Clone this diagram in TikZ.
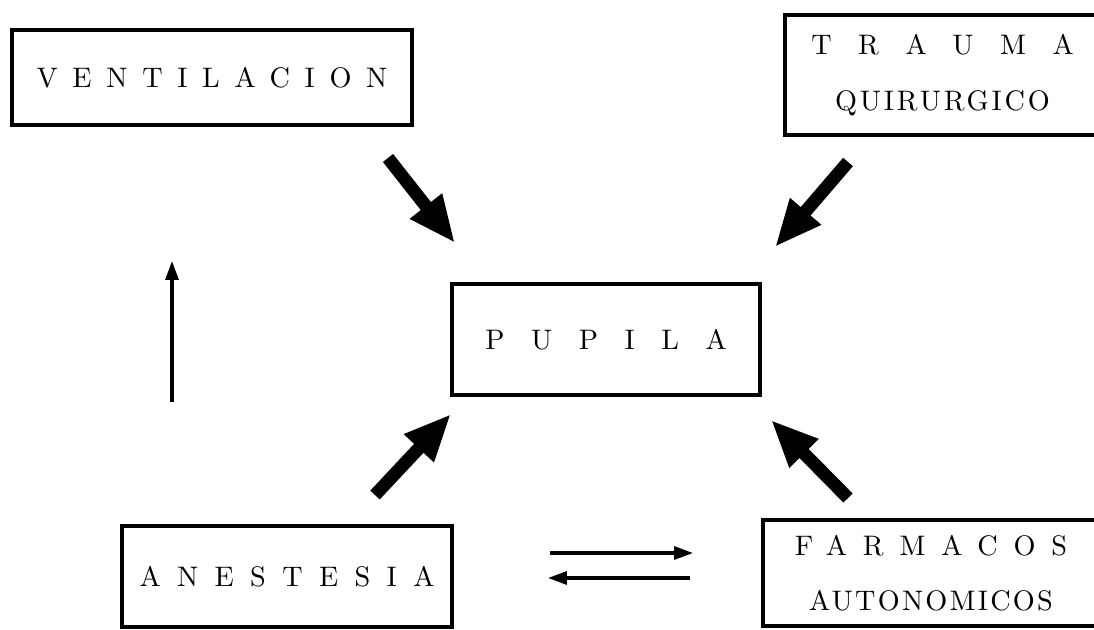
\documentclass[tikz,border=0pt]{standalone}
\usepackage{fontspec}
\setmainfont{lmroman10-regular}[Extension=.otf]
\usetikzlibrary{arrows.meta}
% letter-spaced capitals
\newcommand\spacedcaps[2]{{\addfontfeatures{LetterSpace=#1}#2}}
\begin{document}
\begin{tikzpicture}[x=0.85pt,y=-0.85pt,
  box/.style={draw,line width=3pt,rectangle,inner sep=0pt,align=center,
    font=\fontsize{24}{47}\selectfont},
  fat/.style={line width=11pt,-{Triangle[length=40pt,width=32pt]}},
  thin/.style={line width=2.6pt,-{Triangle[length=16pt,width=11pt]}}]
\useasboundingbox (0,0) rectangle (1094,630);

% boxes
\node[box,minimum width=400*0.85pt,minimum height=95*0.85pt] (vent) at (212,77.5)
  {\spacedcaps{52}{VENTILACION}};
\node[box,minimum width=315*0.85pt,minimum height=120*0.85pt] (trauma) at (942.5,75)
  {\spacedcaps{94}{TRAUMA}\\\spacedcaps{10}{QUIRURGICO}};
\node[box,minimum width=308*0.85pt,minimum height=111*0.85pt] (pupila) at (606,339.5)
  {\spacedcaps{94}{PUPILA}};
\node[box,minimum width=330*0.85pt,minimum height=101*0.85pt] (anest) at (287,576.5)
  {\spacedcaps{58}{ANESTESIA}};
\node[box,minimum width=336*0.85pt,minimum height=106*0.85pt] (farm) at (931,573)
  {\spacedcaps{56}{FARMACOS}\\\spacedcaps{8}{AUTONOMICOS}};

% arrow end points
\coordinate (v1) at (388,158);  \coordinate (v2) at (455,243);
\coordinate (t1) at (848,162);  \coordinate (t2) at (775,247);
\coordinate (a1) at (375,495);  \coordinate (a2) at (451,414);
\coordinate (f1) at (848,498);  \coordinate (f2) at (771,420);
\coordinate (up1) at (172,402); \coordinate (up2) at (172,261);
\coordinate (r1) at (550,553);  \coordinate (r2) at (693,553);
\coordinate (l1) at (690,578);  \coordinate (l2) at (548,578);

% influences on the pupil
\draw[fat] (v1) -- (v2);
\draw[fat] (t1) -- (t2);
\draw[fat] (a1) -- (a2);
\draw[fat] (f1) -- (f2);

% remaining relations
\draw[thin] (up1) -- (up2);
\draw[thin] (r1) -- (r2);
\draw[thin] (l1) -- (l2);
\end{tikzpicture}
\end{document}
